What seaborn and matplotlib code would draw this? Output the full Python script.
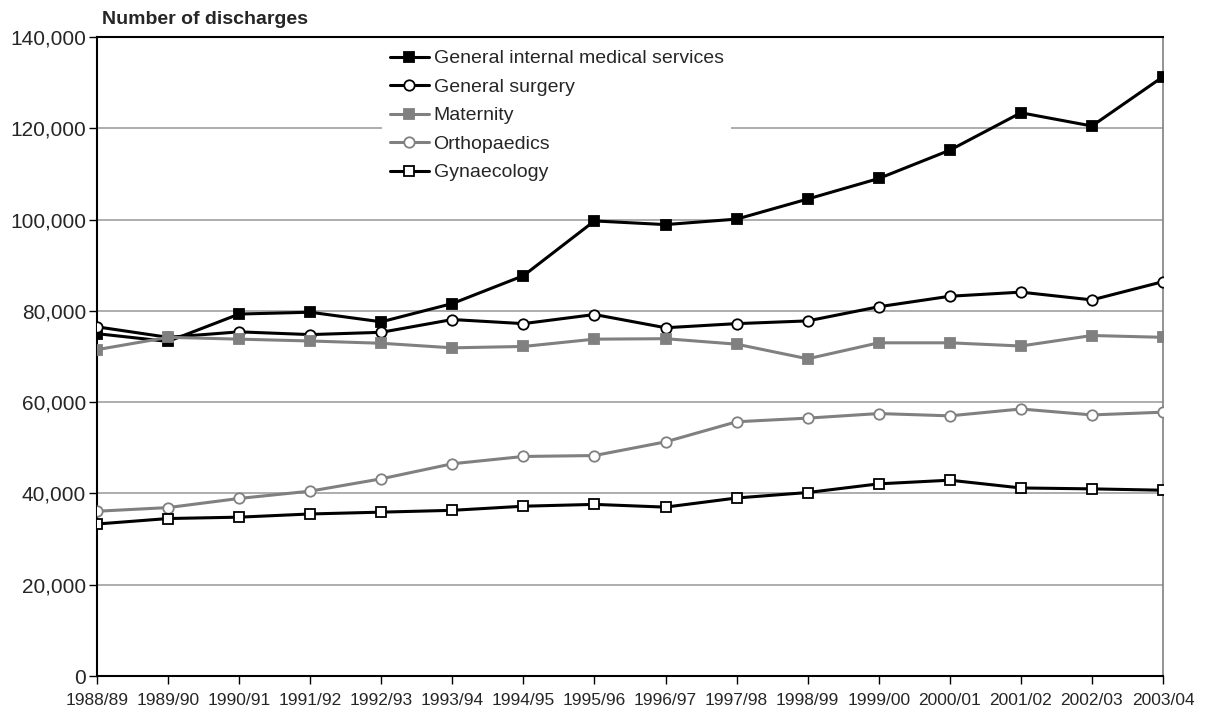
import matplotlib
matplotlib.use("Agg")
import matplotlib.pyplot as plt
import matplotlib.ticker as mticker
import seaborn as sns
import pandas as pd

# data
years = ["1988/89", "1989/90", "1990/91", "1991/92", "1992/93", "1993/94", "1994/95", "1995/96",
         "1996/97", "1997/98", "1998/99", "1999/00", "2000/01", "2001/02", "2002/03", "2003/04"]
general_medical = [75000, 73300, 79300, 79700, 77600, 81600, 87700, 99700,
                   98900, 100100, 104500, 109000, 115200, 123400, 120500, 131300]
general_surgery = [76500, 74200, 75400, 74800, 75300, 78100, 77200, 79200,
                   76300, 77200, 77800, 80900, 83200, 84100, 82400, 86400]
maternity = [71500, 74200, 73800, 73400, 72900, 71900, 72200, 73800,
             73900, 72700, 69500, 73000, 73000, 72300, 74600, 74200]
orthopaedics = [36100, 36900, 38900, 40500, 43200, 46500, 48100, 48300,
                51300, 55700, 56500, 57500, 57000, 58500, 57200, 57800]
gynaecology = [33300, 34500, 34800, 35500, 35900, 36300, 37200, 37600,
               37000, 39000, 40200, 42100, 42900, 41200, 41000, 40700]

series = [
    ("General internal medical services", general_medical, "black", "s", "black"),
    ("General surgery", general_surgery, "black", "o", "white"),
    ("Maternity", maternity, "#808080", "s", "#808080"),
    ("Orthopaedics", orthopaedics, "#808080", "o", "white"),
    ("Gynaecology", gynaecology, "black", "s", "white"),
]

sns.set_theme(style="white")
plt.rcParams['font.family'] = ['Liberation Sans', 'DejaVu Sans']

fig = plt.figure(figsize=(12.08, 7.15), dpi=100)
ax = fig.add_axes([97 / 1208, 39 / 715, 1066 / 1208, 639 / 715])

x = list(range(len(years)))
for name, vals, color, marker, face in series:
    df = pd.DataFrame({"x": x, "y": vals})
    sns.lineplot(data=df, x="x", y="y", ax=ax, color=color, linewidth=2.2,
                 marker=marker, markersize=7.5, markerfacecolor=face,
                 markeredgecolor=color, markeredgewidth=1.3, label=name,
                 sort=False, zorder=3)

ax.set_xlim(0, len(years) - 1)
ax.set_ylim(0, 140000)
ax.set_xticks(x)
ax.set_xticklabels(years, fontsize=12.5)
ax.set_yticks(range(0, 140001, 20000))
ax.yaxis.set_major_formatter(mticker.FuncFormatter(lambda v, p: f"{int(v):,}"))
ax.tick_params(axis='y', labelsize=15, length=6, width=1, color='black', direction='out', left=True, pad=2)
ax.tick_params(axis='x', length=6, width=1, color='black', direction='out', bottom=True, pad=6)
ax.set_xlabel("")
ax.set_ylabel("")

ax.yaxis.grid(True, color="#a0a0a0", linewidth=1.2)
ax.set_axisbelow(True)
for side in ["left", "bottom", "top"]:
    ax.spines[side].set_color("black")
    ax.spines[side].set_linewidth(1.5)
ax.spines["right"].set_color("#808080")
ax.spines["right"].set_linewidth(1.2)

leg = ax.legend(loc="upper left", bbox_to_anchor=(382 / 1208, 1 - 42 / 715),
                bbox_transform=fig.transFigure, fontsize=14, frameon=True,
                framealpha=1, edgecolor="white", fancybox=False,
                handlelength=2.0, handletextpad=0.25, labelspacing=0.56,
                borderpad=0.4, borderaxespad=0)
leg.get_frame().set_linewidth(0)

fig.text(102 / 1208, 1 - 24 / 715, "Number of discharges", fontsize=14,
         fontweight="bold", ha="left", va="baseline")

fig.savefig("out.png", dpi=100)
